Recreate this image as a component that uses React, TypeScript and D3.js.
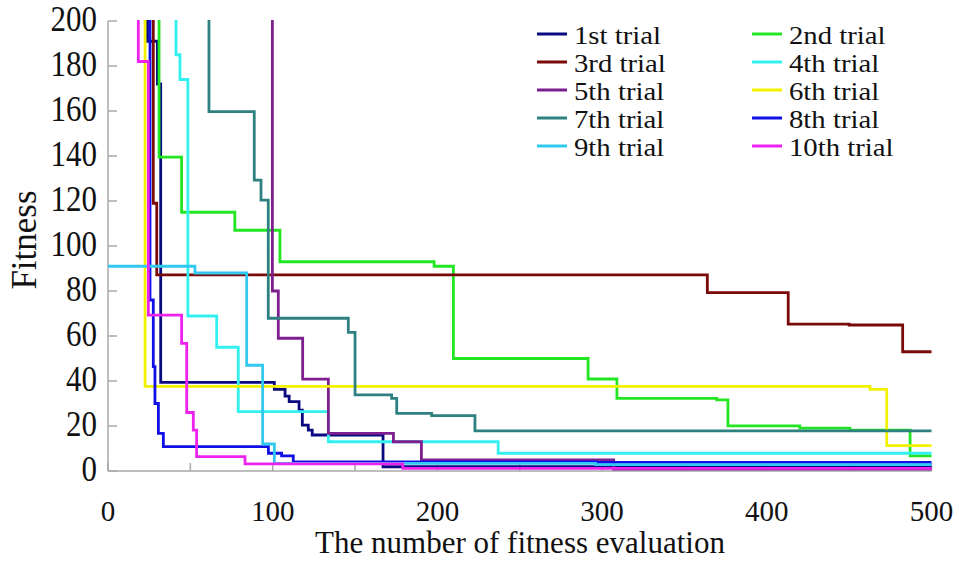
import React from "react";
import * as d3 from "d3";

// Best-so-far fitness per trial: [evaluation count, fitness], drawn as step-after curves.
// A first value above 200 means the run started off the top of the fitness axis.
const trial1: [number, number][] = [
  [24, 300], [24, 191], [30, 172], [32, 39.4], [101, 36.3], [107.5, 33.3], [110, 30.8],
  [116, 27], [118, 20.4], [121.6, 18.2], [124, 16], [167, 1.9], [500, 1.9],
];
const trial2: [number, number][] = [
  [27.5, 300], [31, 139.5], [44.7, 115], [77, 107], [104.4, 93], [198, 91], [209.7, 50],
  [291.5, 40.9], [309, 32.3], [369.6, 31.6], [376.4, 20.1], [420, 19.1], [450.5, 18.2],
  [487, 6.7], [500, 6.7],
];
const trial3: [number, number][] = [
  [26.5, 300], [27.5, 119], [29.6, 87.2], [363.9, 79.3], [413, 65.3], [450, 64.9],
  [482.5, 53], [500, 53],
];
const trial4: [number, number][] = [
  [41.3, 300], [41.3, 185], [43.7, 174], [48.5, 68.9], [66, 55], [79.1, 26.4],
  [133.8, 13], [236.9, 7.9], [500, 7.9],
];
const trial5: [number, number][] = [
  [99.8, 300], [99.8, 80], [103.4, 59], [118.2, 40.8], [133.8, 16.7], [173.3, 13],
  [190.3, 4.9], [307, 0.8], [500, 0.8],
];
const trial6: [number, number][] = [
  [22.5, 300], [22.5, 37.6], [462.7, 36.3], [472.8, 11.3], [500, 11.3],
];
const trial7: [number, number][] = [
  [61.3, 300], [61.3, 159.7], [88.8, 129.3], [92.9, 120.4], [97.3, 67.9], [145.9, 61.6],
  [150, 33.8], [172.2, 32.3], [175.3, 25.6], [196.5, 24.6], [222.8, 17.8], [500, 17.8],
];
const trial8: [number, number][] = [
  [24, 300], [25.5, 76], [27.5, 46.4], [28.5, 30], [30.6, 16.7], [33.6, 10.8],
  [97.4, 7.9], [105.4, 6.7], [112.5, 4.1], [296, 3.8], [500, 3.8],
];
const trial9: [number, number][] = [
  [0, 91], [52.8, 88], [84.2, 47], [93.9, 12], [101, 3.4], [296, 2.8], [500, 2.8],
];
const trial10: [number, number][] = [
  [18.4, 300], [18.4, 182], [24.5, 69.3], [44.7, 56.7], [47.8, 26], [51.8, 18.2],
  [53.8, 6.4], [83.2, 3.2], [179, 1.2], [500, 1.2],
];

const trials = [trial1, trial2, trial3, trial4, trial5, trial6, trial7, trial8, trial9, trial10];
const trialNames = [
  "1st trial", "2nd trial", "3rd trial", "4th trial", "5th trial",
  "6th trial", "7th trial", "8th trial", "9th trial", "10th trial",
];
const trialColors = [
  "#0a0a80", "#22e622", "#7a0a0a", "#33f0f0", "#7f1f8f",
  "#f2f200", "#2f8080", "#1010e6", "#33c8f0", "#ee22ee",
];

const xTickLabels = [0, 100, 200, 300, 400, 500];
const xTickMarks = [0, 50, 100, 150, 200, 250, 300, 350, 400, 450, 500];
const yTickLabels = [0, 20, 40, 60, 80, 100, 120, 140, 160, 180, 200];

const W = 959;
const H = 561;
const FONT = "'Liberation Serif', 'Times New Roman', serif";

export default function App() {
  const x = d3.scaleLinear().domain([0, 500]).range([108, 931.5]);
  const y = d3.scaleLinear().domain([0, 200]).range([471, 21]);
  const line = d3
    .line<[number, number]>()
    .x((d) => x(d[0]))
    .y((d) => y(d[1]))
    .curve(d3.curveStepAfter);

  const axisColor = "#a8a8a8";
  const legendRowY = (i: number) => 35 + i * 28;
  const textStyle = { fontFamily: FONT, fill: "#111" } as React.CSSProperties;

  return (
    <svg
      width={W}
      height={H}
      style={{ position: "absolute", left: 0, top: 0, background: "#fff" }}
    >
      <defs>
        <clipPath id="plot-clip">
          <rect x={x(0)} y={y(200) - 1} width={x(500) - x(0) + 3} height={y(0) - y(200) + 3} />
        </clipPath>
      </defs>

      {/* axes with inward ticks */}
      <line x1={x(0)} x2={x(0)} y1={y(200)} y2={y(0)} stroke={axisColor} strokeWidth={1.5} />
      <line x1={x(0)} x2={x(500)} y1={y(0)} y2={y(0)} stroke={axisColor} strokeWidth={1.5} />
      {yTickLabels.map((v) => (
        <line key={"yt" + v} x1={x(0)} x2={x(0) + 9} y1={y(v)} y2={y(v)} stroke={axisColor} strokeWidth={1.5} />
      ))}
      {xTickMarks.map((v) => (
        <line key={"xt" + v} x1={x(v)} x2={x(v)} y1={y(0)} y2={y(0) - 8} stroke={axisColor} strokeWidth={1.5} />
      ))}

      {/* trial curves */}
      <g clipPath="url(#plot-clip)">
        {trials.map((t, i) => (
          <path
            key={trialNames[i]}
            d={line(t) || ""}
            fill="none"
            stroke={trialColors[i]}
            strokeWidth={2.8}
            strokeLinejoin="miter"
          />
        ))}
      </g>

      {/* tick labels */}
      {yTickLabels.map((v) => (
        <text
          key={"yl" + v}
          transform={`translate(97, ${y(v) + 10}) scale(1, 1.18)`}
          textAnchor="end"
          style={{ ...textStyle, fontSize: 31 }}
        >
          {v}
        </text>
      ))}
      {xTickLabels.map((v) => (
        <text
          key={"xl" + v}
          x={x(v)}
          y={521}
          textAnchor="middle"
          style={{ ...textStyle, fontSize: 29 }}
        >
          {v}
        </text>
      ))}

      {/* axis titles */}
      <text x={520} y={553} textAnchor="middle" style={{ ...textStyle, fontSize: 31 }}>
        The number of fitness evaluation
      </text>
      <text
        transform={`translate(36, 240) rotate(-90)`}
        textAnchor="middle"
        style={{ ...textStyle, fontSize: 35 }}
      >
        Fitness
      </text>

      {/* legend: two columns */}
      {trialNames.map((name, i) => {
        const col = i % 2;
        const row = Math.floor(i / 2);
        const lx = col === 0 ? 537 : 752;
        const ly = legendRowY(row);
        return (
          <g key={"lg" + name}>
            <line x1={lx} x2={lx + 30} y1={ly - 1} y2={ly - 1} stroke={trialColors[i]} strokeWidth={3} />
            <text
              transform={`translate(${lx + 37}, ${ly + 8.5}) scale(1.15, 1)`}
              style={{ ...textStyle, fontSize: 25 }}
            >
              {name}
            </text>
          </g>
        );
      })}
    </svg>
  );
}
